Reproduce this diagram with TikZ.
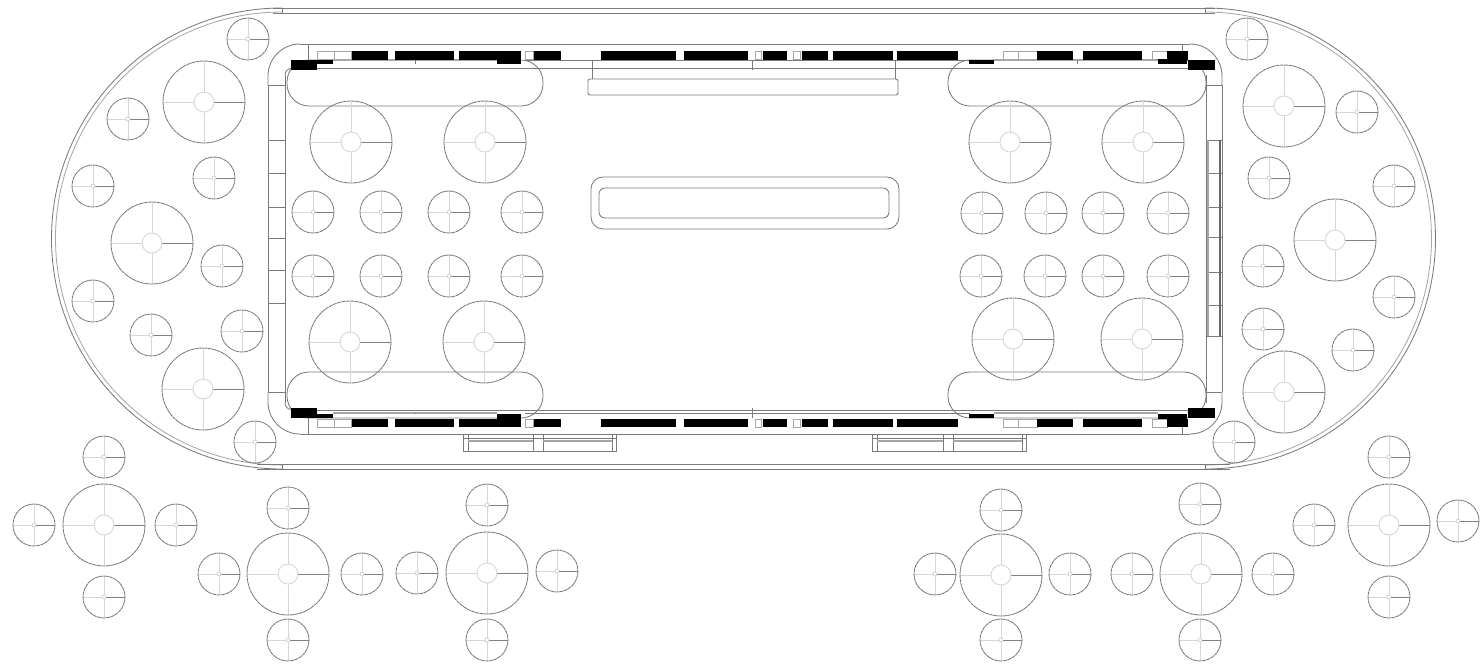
\documentclass[tikz,border=0pt]{standalone}
\tikzset{
  ln/.style={draw=black!52,line width=0.42pt},
  lnlight/.style={draw=black!35,line width=0.42pt},
  ring/.style={draw=black!52,line width=0.42pt,dash pattern=on 2pt off 0.25pt},
  armlight/.style={draw=black!16,line width=0.45pt},
  armdark/.style={draw=black!50,line width=0.45pt},
  blk/.style={fill=black,draw=none},
  box/.style={draw=black!35,line width=0.42pt,fill=white}
}
\newcommand{\biggauge}[2]{%
  \draw[armlight] (#1-41,#2)--(#1-10,#2) (#1,#2-41)--(#1,#2-10) (#1,#2+10)--(#1,#2+41);
  \draw[armdark] (#1+10,#2)--(#1+41,#2);
  \draw[armlight] (#1,#2) circle[radius=10];
  \draw[ring] (#1,#2) circle[radius=41];
}
\newcommand{\smallgauge}[2]{%
  \draw[armlight] (#1-21,#2)--(#1-2,#2) (#1,#2-21)--(#1,#2-2) (#1,#2+2)--(#1,#2+21);
  \draw[armdark] (#1+2,#2)--(#1+21,#2);
  \draw[armlight] (#1,#2) circle[radius=2];
  \draw[ring] (#1,#2) circle[radius=21];
}
% one row of the band; #1 is the height of its light rail
\newcommand{\band}[1]{%
  \draw[lnlight,line width=0.8pt] (333,#1)--(497,#1) (994,#1)--(1158,#1);
  \draw[ln] (525,#1)--(970,#1);
  \draw[ln] (415,#1)--(415,64);
  \draw[ln] (752,60)--(752,70);
  \draw[ln] (1077,#1)--(1077,64);
  \draw[ln] (291,68)--(1206,68);
  \draw[ln] (300,44)--(1190,44);
  \draw[ln] (308,44)--(308,60) (1182,44)--(1182,60);
  \draw[ln] (300,44) arc[start angle=270,end angle=180,radius=32] -- (268,85);
  \draw[ln] (1190,44) arc[start angle=270,end angle=360,radius=32] -- (1222,85);
  \draw[ln] (285,75) arc[start angle=180,end angle=270,radius=6.5];
  \draw[box] (317,51) rectangle (334,59);
  \draw[box] (334,51) rectangle (351,59);
  \draw[box] (525,51) rectangle (533,59);
  \draw[box] (755,51) rectangle (761,59);
  \draw[box] (793,51) rectangle (800,59);
  \draw[box] (1003,51) rectangle (1018,59);
  \draw[box] (1018,51) rectangle (1037,59);
  \draw[box] (1152,51) rectangle (1167,59);
  \foreach \a/\b in {352/388,395/454,459/521,534/561,601/676,684/748,763/787,802/828,833/893,897/958,1037/1073,1083/1142,1167/1188}
    \fill[blk] (\a,51) rectangle (\b,59.5);
  \fill[blk] (497,59) rectangle (521,64);
  \fill[blk] (317,60) rectangle (333,64);
  \fill[blk] (291,60) rectangle (317,70);
  \fill[blk] (969,60) rectangle (994,64);
  \fill[blk] (1158,59) rectangle (1187,64);
  \fill[blk] (1188,60) rectangle (1215,70);
}
\begin{document}
\begin{tikzpicture}[x=0.5pt,y=-0.5pt]
\useasboundingbox (0,0) rectangle (1480,665);
% hull
\draw[ln] (282,8) arc[start angle=270,end angle=90,radius=230.5] (1205,8) arc[start angle=270,end angle=450,radius=230.5];
\draw[lnlight] (282,12) arc[start angle=270,end angle=90,radius=226.5] (1205,12) arc[start angle=270,end angle=450,radius=226.5];
\draw[ln] (273,8)--(1215,8) (273,13)--(1215,13);
\draw[ln] (257,464)--(1230,464) (257,469)--(1230,469);
\draw[ln] (282,8)--(282,13) (282,464)--(282,469) (1205,8)--(1205,13) (1205,464)--(1205,469);
% inner strips
\draw[ln] (268,85)--(268,392) (285,75)--(285,403);
\draw[ln] (1222,85)--(1222,392) (1206,75)--(1206,403);
\foreach \y in {85,140,173,207,238,270,303,392}
  \draw[ln] (268,\y)--(285,\y);
\foreach \y in {85,140,173,207,237,272,305,336,392}
  \draw[ln] (1206,\y)--(1222,\y);
\draw[lnlight,line width=1.1pt] (1208,140)--(1208,336);
\draw[draw=black!60,line width=0.6pt] (1220,140)--(1220,336);
% pills
\draw[ln,rounded corners=11pt] (287,60) rectangle (543,106);
\draw[ln,rounded corners=11pt] (948,60) rectangle (1206,106);
\draw[ln,rounded corners=11pt] (287,372) rectangle (543,418);
\draw[ln,rounded corners=11pt] (948,372) rectangle (1206,418);
% bands
\band{60}
\begin{scope}[y=0.5pt,yshift=-239pt]
\band{65}
\end{scope}
% central parts
\draw[ln] (592,60)--(592,79) (895,60)--(895,79);
\draw[ln,rounded corners=1pt] (588,79) rectangle (898,95);
\draw[ln,rounded corners=6pt] (591,177) rectangle (899,229);
\draw[ln,rounded corners=3pt] (599,188) rectangle (889,218);
% bottom boxes
\foreach \xa/\xb/\xc/\xd/\xe/\xf in {463/468/533/543/612/616,872/877/943/953/1022/1026}{
  \draw[ln] (\xa,434) rectangle (\xf,451);
  \draw[ln] (\xb,434)--(\xb,451) (\xc,434)--(\xc,451) (\xd,434)--(\xd,451) (\xe,434)--(\xe,451);
  \draw[lnlight,line width=0.8pt] (\xb,441)--(\xc,441) (\xd,441)--(\xe,441);
  \draw[ln] (\xa,438)--(\xf,438);
}
% gauges
\foreach \x/\y in {204/102,152/243,203/389,351/142,485/142,350/342,484/342,1010/142,1143/142,1013/339,1142/339,1284/106,1335/240,1284/392,104/525,288/574,487/573,1001/575,1201/574,1389/525}
  {\biggauge{\x}{\y}}
\foreach \x/\y in {248/39,128/119,214/178,93/186,222/266,93/301,151/335,242/331,255/442,
  313/212,381/212,449/212,522/212,313/276,381/276,449/276,522/276,
  982/213,1046/213,1103/213,1168/213,981/276,1045/276,1103/276,1168/276,
  1247/39,1357/112,1269/178,1394/186,1263/266,1394/297,1263/329,1353/350,1234/442,
  104/457,34/525,176/525,104/597,288/508,219/574,362/574,288/640,
  487/505,417/573,557/571,487/640,1001/510,935/574,1070/574,1001/640,
  1200/504,1132/574,1273/574,1200/640,1389/457,1314/525,1458/521,1389/597}
  {\smallgauge{\x}{\y}}
\end{tikzpicture}
\end{document}
